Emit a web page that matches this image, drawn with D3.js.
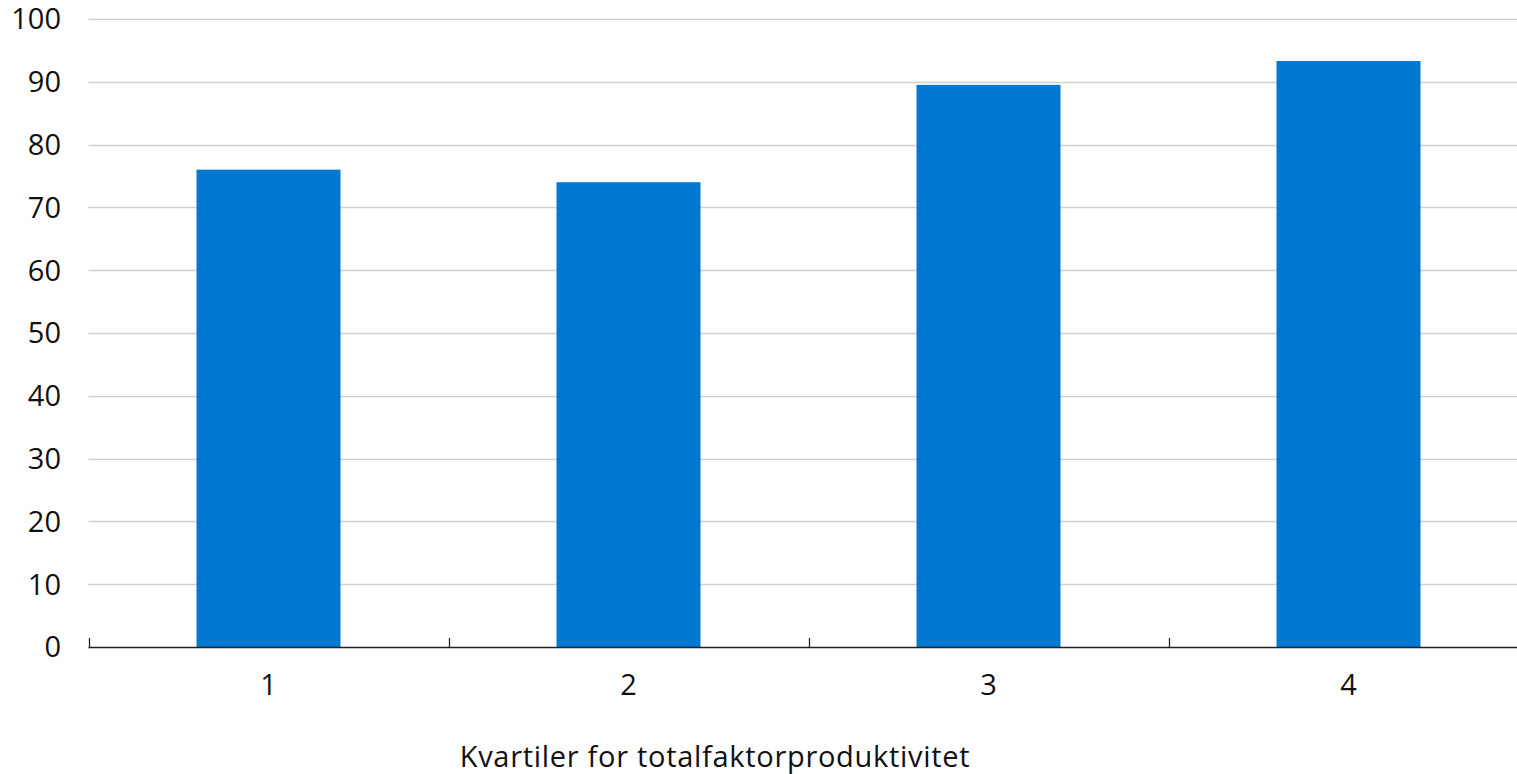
<!DOCTYPE html>
<html><head><meta charset="utf-8">
<script src="https://cdn.jsdelivr.net/npm/d3@7"></script>
<style>
html,body{margin:0;padding:0;background:#fff;}
svg{display:block;}
text{font-family:"Open Sans",Lato,sans-serif;fill:#111;}
</style></head>
<body><svg id="chart" width="1517" height="774"></svg>
<script>
const categories = ["1","2","3","4"];
const values = [76.0, 74.0, 89.5, 93.3];
const yTicks = [0,10,20,30,40,50,60,70,80,90,100];
const xTitle = "Kvartiler for totalfaktorproduktivitet";

const svg = d3.select("#chart");
const x0 = 88.5, x1 = 1528.5, yTop = 18.9, yBot = 647;
const x = d3.scaleBand().domain(categories).range([x0, x1]).paddingInner(0.6).paddingOuter(0.3);
const y = d3.scaleLinear().domain([0,100]).range([yBot, yTop]);
const fs = 29;

// gridlines
svg.append("g").selectAll("line").data(yTicks.filter(d=>d>0)).join("line")
  .attr("x1", x0).attr("x2", 1517)
  .attr("y1", d=>Math.round(y(d))+0.5).attr("y2", d=>Math.round(y(d))+0.5)
  .attr("stroke", "#d0d0d0").attr("stroke-width", 1.3);

// y labels
svg.append("g").selectAll("text").data(yTicks).join("text")
  .attr("x", 61).attr("y", d=>y(d)).attr("dy","0.36em")
  .attr("text-anchor","end").attr("font-size", fs).text(d=>d);

// bars
svg.append("g").selectAll("rect").data(values).join("rect")
  .attr("x", (d,i)=>x(categories[i])).attr("width", x.bandwidth())
  .attr("y", d=>y(d)).attr("height", d=>yBot - y(d))
  .attr("fill", "#0279d1");

// x axis line and ticks
const bandStep = x.step();
const tickPos = d3.range(categories.length).map(i=> x0 + i*bandStep);
svg.append("line").attr("x1", x0).attr("x2", 1517).attr("y1", yBot+0.5).attr("y2", yBot+0.5)
  .attr("stroke","#222").attr("stroke-width",1.3);
svg.append("g").selectAll("line").data(tickPos).join("line")
  .attr("x1", d=>Math.round(d)+0.5).attr("x2", d=>Math.round(d)+0.5)
  .attr("y1", yBot-9).attr("y2", yBot)
  .attr("stroke","#222").attr("stroke-width",1.3);

// x labels
svg.append("g").selectAll("text").data(categories).join("text")
  .attr("x", d=>x(d)+x.bandwidth()/2).attr("y", 695)
  .attr("text-anchor","middle").attr("font-size",fs).text(d=>d);

svg.append("text").attr("x", 715).attr("y", 767)
  .attr("text-anchor","middle").attr("font-size",fs).attr("letter-spacing", 0.7).text(xTitle);
</script></body></html>
